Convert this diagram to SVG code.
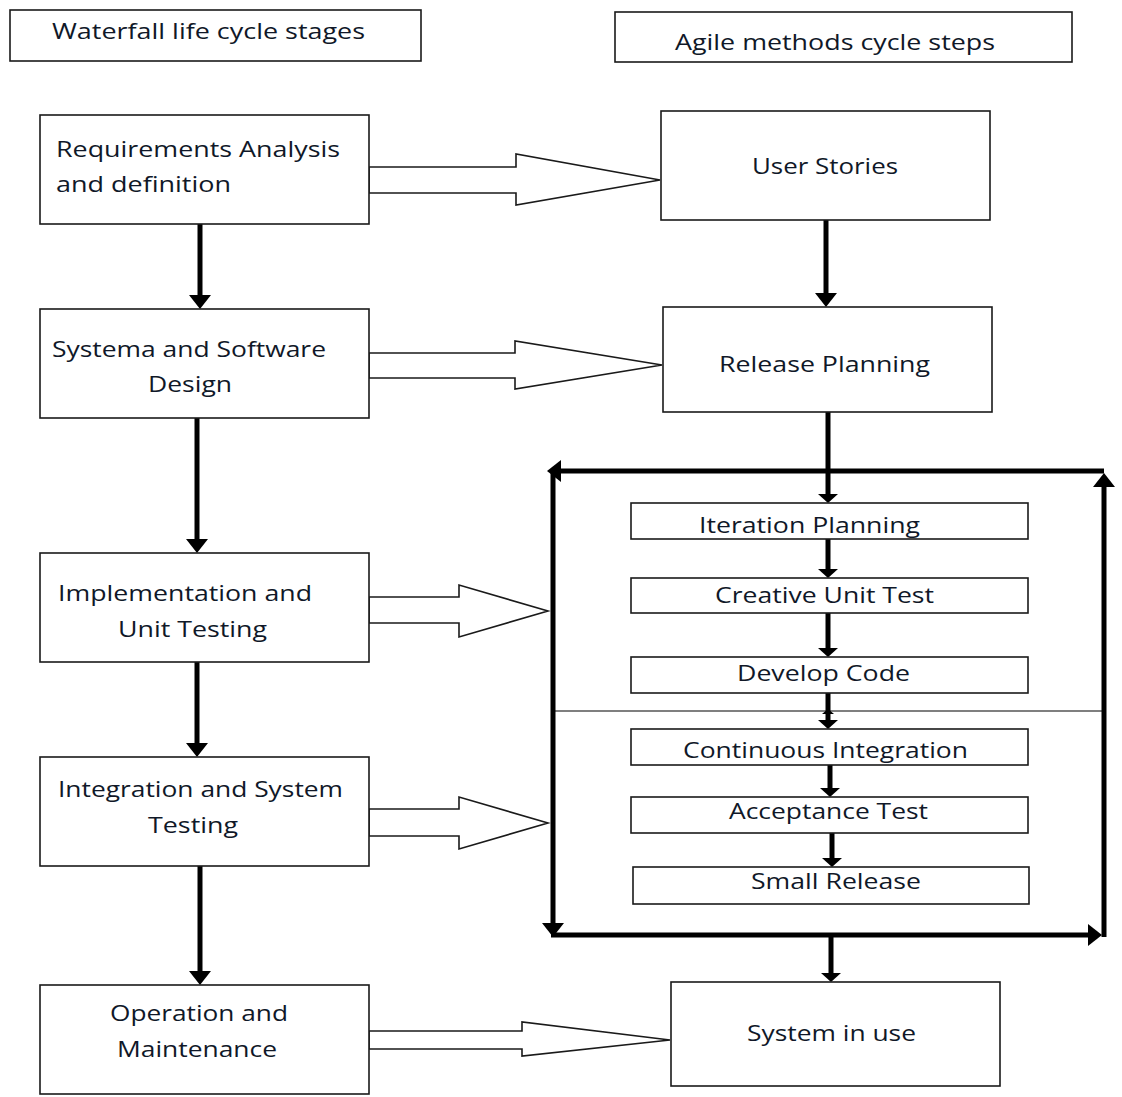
<svg xmlns="http://www.w3.org/2000/svg" width="1122" height="1097" viewBox="0 0 1122 1097">
  <style>
    .box { fill: #fff; stroke: #1a1a1a; stroke-width: 1.6; }
    .lbl { font-family: "Open Sans", "Noto Sans", "Liberation Sans", sans-serif; font-size: 22px; font-weight: 500; fill: #101828; }
    .flow { stroke: #000; stroke-width: 5; fill: none; }
    .thin { stroke: #000; stroke-width: 1.2; fill: none; }
    .head { fill: #000; stroke: none; }
    .block { fill: #fff; stroke: #1a1a1a; stroke-width: 1.6; stroke-linejoin: miter; }
  </style>
  <defs>
    <!-- solid arrowhead, drawn with its base at the line end -->
    <marker id="tip" markerUnits="userSpaceOnUse" viewBox="0 -12 14 24" refX="0" refY="0" markerWidth="14" markerHeight="24" orient="auto">
      <path d="M0,-11 L14,0 L0,11 z" fill="#000"/>
    </marker>
    <marker id="tipS" markerUnits="userSpaceOnUse" viewBox="0 -11 9 22" refX="0" refY="0" markerWidth="9" markerHeight="22" orient="auto">
      <path d="M0,-10 L9,0 L0,10 z" fill="#000"/>
    </marker>
  </defs>

  <!-- column headings -->
  <g id="head-waterfall">
    <rect class="box" x="10" y="10" width="411" height="51"/>
    <text class="lbl" x="52" y="39" textLength="313" lengthAdjust="spacingAndGlyphs">Waterfall life cycle stages</text>
  </g>
  <g id="head-agile">
    <rect class="box" x="615" y="12" width="457" height="50"/>
    <text class="lbl" x="675" y="50" textLength="320" lengthAdjust="spacingAndGlyphs">Agile methods cycle steps</text>
  </g>

  <!-- connectors -->
  <g id="connectors">
    <!-- waterfall chain -->
    <line class="flow" x1="200" y1="224" x2="200" y2="295" marker-end="url(#tip)"/>
    <line class="flow" x1="197" y1="418" x2="197" y2="539" marker-end="url(#tip)"/>
    <line class="flow" x1="197" y1="662" x2="197" y2="743" marker-end="url(#tip)"/>
    <line class="flow" x1="200" y1="866" x2="200" y2="971" marker-end="url(#tip)"/>

    <!-- agile chain -->
    <line class="flow" x1="826" y1="220" x2="826" y2="293" marker-end="url(#tip)"/>
    <line class="flow" x1="828" y1="412" x2="828" y2="494" marker-end="url(#tipS)"/>
    <line class="flow" x1="828" y1="539" x2="828" y2="569" marker-end="url(#tipS)"/>
    <line class="flow" x1="828" y1="613" x2="828" y2="648" marker-end="url(#tipS)"/>
    <line class="flow" x1="828" y1="693" x2="828" y2="720" marker-end="url(#tipS)"/>
    <path class="head" d="M822,714 L828,709 L834,714 z"/>
    <line class="flow" x1="830" y1="765" x2="830" y2="788" marker-end="url(#tipS)"/>
    <line class="flow" x1="832" y1="833" x2="832" y2="858" marker-end="url(#tipS)"/>
    <line class="flow" x1="831" y1="935" x2="831" y2="973" marker-end="url(#tipS)"/>

    <!-- iteration loop frame -->
    <line class="flow" x1="1104" y1="471" x2="561" y2="471" marker-end="url(#tip)"/>
    <line class="flow" x1="553" y1="469" x2="553" y2="923" marker-end="url(#tip)"/>
    <line class="flow" x1="551" y1="935" x2="1088" y2="935" marker-end="url(#tip)"/>
    <line class="flow" x1="1104" y1="937" x2="1104" y2="487" marker-end="url(#tip)"/>
    <line class="thin" x1="553" y1="711" x2="1104" y2="711"/>

    <!-- hollow arrows linking the two columns -->
    <polygon class="block" points="369,167 516,167 516,154 660,180 516,205 516,193 369,193"/>
    <polygon class="block" points="369,353 515,353 515,341 662,365 515,389 515,378 369,378"/>
    <polygon class="block" points="369,597 459,597 459,585 548,611 459,637 459,623 369,623"/>
    <polygon class="block" points="369,809 459,809 459,797 548,823 459,849 459,836 369,836"/>
    <polygon class="block" points="369,1031 522,1031 522,1022 670,1040 522,1056 522,1049 369,1049"/>
  </g>

  <!-- waterfall stages -->
  <g id="req">
    <rect class="box" x="40" y="115" width="329" height="109"/>
    <text class="lbl" x="56" y="157" textLength="284" lengthAdjust="spacingAndGlyphs">Requirements Analysis</text>
    <text class="lbl" x="56" y="192" textLength="175" lengthAdjust="spacingAndGlyphs">and definition</text>
  </g>
  <g id="design">
    <rect class="box" x="40" y="309" width="329" height="109"/>
    <text class="lbl" x="52" y="357" textLength="274" lengthAdjust="spacingAndGlyphs">Systema and Software</text>
    <text class="lbl" x="148" y="392" textLength="84" lengthAdjust="spacingAndGlyphs">Design</text>
  </g>
  <g id="impl">
    <rect class="box" x="40" y="553" width="329" height="109"/>
    <text class="lbl" x="58" y="601" textLength="254" lengthAdjust="spacingAndGlyphs">Implementation and</text>
    <text class="lbl" x="118" y="637" textLength="149" lengthAdjust="spacingAndGlyphs">Unit Testing</text>
  </g>
  <g id="integ">
    <rect class="box" x="40" y="757" width="329" height="109"/>
    <text class="lbl" x="58" y="797" textLength="285" lengthAdjust="spacingAndGlyphs">Integration and System</text>
    <text class="lbl" x="148" y="833" textLength="90" lengthAdjust="spacingAndGlyphs">Testing</text>
  </g>
  <g id="ops">
    <rect class="box" x="40" y="985" width="329" height="109"/>
    <text class="lbl" x="110" y="1021" textLength="178" lengthAdjust="spacingAndGlyphs">Operation and</text>
    <text class="lbl" x="117" y="1057" textLength="160" lengthAdjust="spacingAndGlyphs">Maintenance</text>
  </g>

  <!-- agile steps -->
  <g id="stories">
    <rect class="box" x="661" y="111" width="329" height="109"/>
    <text class="lbl" x="752" y="174" textLength="146" lengthAdjust="spacingAndGlyphs">User Stories</text>
  </g>
  <g id="release">
    <rect class="box" x="663" y="307" width="329" height="105"/>
    <text class="lbl" x="719" y="372" textLength="211" lengthAdjust="spacingAndGlyphs">Release Planning</text>
  </g>
  <g id="iter">
    <rect class="box" x="631" y="503" width="397" height="36"/>
    <text class="lbl" x="699" y="533" textLength="221" lengthAdjust="spacingAndGlyphs">Iteration Planning</text>
  </g>
  <g id="unittest">
    <rect class="box" x="631" y="578" width="397" height="35"/>
    <text class="lbl" x="715" y="603" textLength="219" lengthAdjust="spacingAndGlyphs">Creative Unit Test</text>
  </g>
  <g id="code">
    <rect class="box" x="631" y="657" width="397" height="36"/>
    <text class="lbl" x="737" y="681" textLength="173" lengthAdjust="spacingAndGlyphs">Develop Code</text>
  </g>
  <g id="ci">
    <rect class="box" x="631" y="729" width="397" height="36"/>
    <text class="lbl" x="683" y="758" textLength="285" lengthAdjust="spacingAndGlyphs">Continuous Integration</text>
  </g>
  <g id="accept">
    <rect class="box" x="631" y="797" width="397" height="36"/>
    <text class="lbl" x="729" y="819" textLength="199" lengthAdjust="spacingAndGlyphs">Acceptance Test</text>
  </g>
  <g id="small">
    <rect class="box" x="633" y="867" width="396" height="37"/>
    <text class="lbl" x="751" y="889" textLength="170" lengthAdjust="spacingAndGlyphs">Small Release</text>
  </g>
  <g id="inuse">
    <rect class="box" x="671" y="982" width="329" height="104"/>
    <text class="lbl" x="747" y="1041" textLength="169" lengthAdjust="spacingAndGlyphs">System in use</text>
  </g>
</svg>
